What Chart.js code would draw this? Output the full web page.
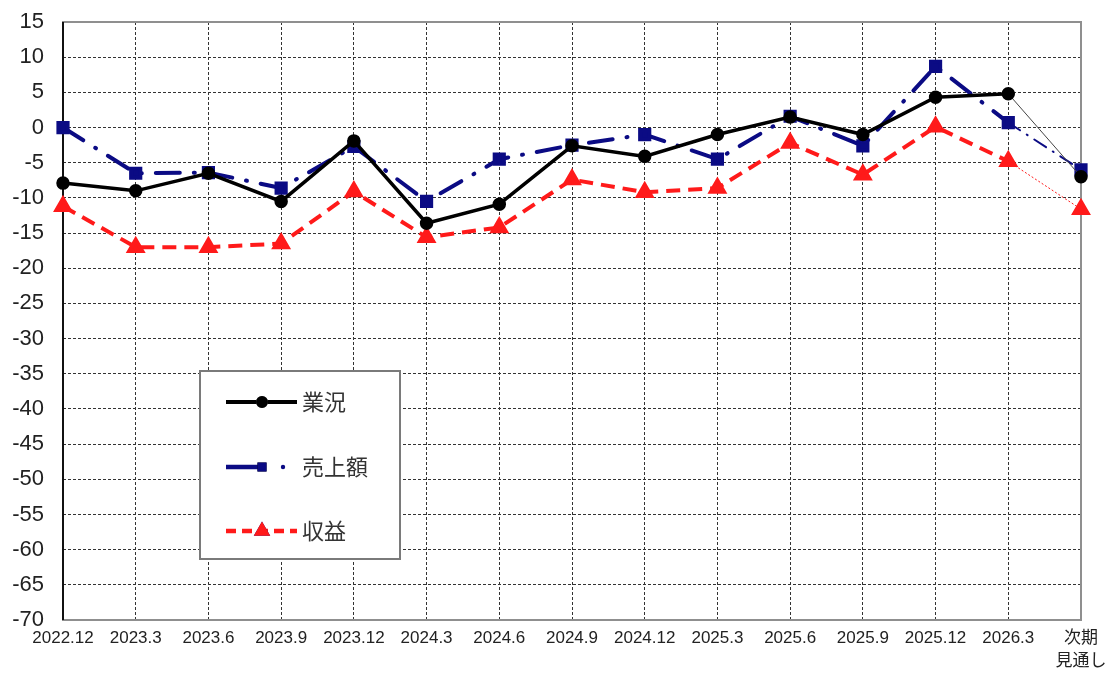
<!DOCTYPE html>
<html lang="ja">
<head>
<meta charset="utf-8">
<title>業況・売上額・収益</title>
<script src="https://cdn.jsdelivr.net/npm/chart.js"></script>
<style>
  html, body { margin: 0; padding: 0; background: #fff; }
  #wrap { width: 1106px; height: 673px; }
</style>
</head>
<body>
<div id="wrap"><canvas id="dsiChart" width="1106" height="673"></canvas></div>
<script>
// 調査時点
const periods = ['2022.12', '2023.3', '2023.6', '2023.9', '2023.12', '2024.3', '2024.6', '2024.9',
    '2024.12', '2025.3', '2025.6', '2025.9', '2025.12', '2026.3', ['次期', '見通し']];

// DI 値
const gyokyo = [-7.9, -9.0, -6.5, -10.5, -1.9, -13.6, -10.9, -2.6, -4.1, -1.0, 1.5, -1.0, 4.3, 4.8, -7.0];
const uriage = [0, -6.5, -6.4, -8.6, -2.7, -10.5, -4.5, -2.5, -1.0, -4.5, 1.6, -2.6, 8.7, 0.7, -6.0];
const shueki = [-11.2, -17.0, -17.0, -16.5, -9.1, -15.6, -14.2, -7.4, -9.2, -8.6, -2.2, -6.7, 0.1, -4.8, -11.6];

const yMin = -70;
const yMax = 15;
const yStep = 5;

const FONT = '"Liberation Sans", Arial, "Noto Sans CJK JP", sans-serif';
const NAVY = '#0b0b84';
const RED = '#ff1a1a';

// 次期見通しへの線だけ細くする
const isOutlook = ctx => ctx.p1DataIndex === periods.length - 1;

// 枠線（上・右はグレー、左は黒）
const framePlugin = {
    id: 'frame',
    beforeDatasetsDraw(chart) {
        const { ctx, chartArea: a } = chart;
        ctx.save();
        ctx.strokeStyle = '#8f8f8f';
        ctx.lineWidth = 2;
        ctx.strokeRect(a.left, a.top, a.right - a.left, a.bottom - a.top);
        ctx.beginPath();
        ctx.strokeStyle = '#111';
        ctx.moveTo(a.left, a.top);
        ctx.lineTo(a.left, a.bottom);
        ctx.stroke();
        ctx.restore();
    }
};

// 凡例（グラフ内の白い箱）
const legendPlugin = {
    id: 'boxLegend',
    afterDatasetsDraw(chart) {
        const { ctx, chartArea: a } = chart;
        const bx = a.left + 137, by = a.top + 349, bw = 200, bh = 188;
        ctx.save();
        ctx.fillStyle = '#fff';
        ctx.fillRect(bx, by, bw, bh);
        ctx.strokeStyle = '#7a7a7a';
        ctx.lineWidth = 2;
        ctx.strokeRect(bx, by, bw, bh);

        const x0 = bx + 26, x1 = bx + 97, xm = bx + 62;
        const rows = [by + 31, by + 96, by + 160];

        chart.data.datasets.forEach((ds, i) => {
            const y = rows[i];
            ctx.save();
            ctx.strokeStyle = ds.borderColor;
            ctx.lineWidth = ds.borderWidth + 0.5;
            ctx.lineCap = 'butt';
            if (i === 0) {
                ctx.beginPath(); ctx.moveTo(x0, y); ctx.lineTo(x1, y); ctx.stroke();
            } else if (i === 1) {
                ctx.beginPath(); ctx.moveTo(x0, y); ctx.lineTo(xm, y); ctx.stroke();
                ctx.fillStyle = ds.borderColor;
                ctx.beginPath(); ctx.arc(xm + 21, y, 2.2, 0, Math.PI * 2); ctx.fill();
            } else {
                ctx.setLineDash([10, 6]);
                ctx.beginPath(); ctx.moveTo(x0, y); ctx.lineTo(x1, y); ctx.stroke();
            }
            ctx.restore();
            Chart.helpers.drawPoint(ctx, {
                pointStyle: ds.pointStyle,
                radius: i === 1 ? 5 : ds.pointRadius,
                borderWidth: 1,
                rotation: 0
            }, xm, y);
            ctx.fillStyle = ds.pointBackgroundColor;
            ctx.strokeStyle = ds.pointBackgroundColor;
            ctx.fill();
            ctx.stroke();

            ctx.fillStyle = '#333';
            ctx.font = '22px "Noto Sans CJK JP", sans-serif';
            ctx.textBaseline = 'middle';
            ctx.textAlign = 'left';
            ctx.fillText(ds.label, x1 + 5, y);
        });
        ctx.restore();
    }
};

new Chart(document.getElementById('dsiChart'), {
    type: 'line',
    data: {
        labels: periods,
        datasets: [{
            label: '業況',
            data: gyokyo,
            borderColor: '#000',
            borderWidth: 3.5,
            pointStyle: 'circle',
            pointRadius: 5,
            pointBackgroundColor: '#000',
            pointBorderColor: '#000',
            segment: {
                borderWidth: ctx => isOutlook(ctx) ? 1 : undefined,
                borderColor: ctx => isOutlook(ctx) ? '#444' : undefined
            }
        }, {
            label: '売上額',
            data: uriage,
            borderColor: NAVY,
            borderWidth: 4,
            borderDash: [24, 14, 1, 14],
            borderCapStyle: 'round',
            pointStyle: 'rect',
            pointRadius: 6.5,
            pointBackgroundColor: NAVY,
            pointBorderColor: NAVY,
            segment: {
                borderWidth: ctx => isOutlook(ctx) ? 2 : undefined,
                borderDash: ctx => isOutlook(ctx) ? [14, 8, 1, 8] : undefined
            }
        }, {
            label: '収益',
            data: shueki,
            borderColor: RED,
            borderWidth: 4,
            borderDash: [14, 8],
            pointStyle: 'triangle',
            pointRadius: 7.5,
            pointBackgroundColor: RED,
            pointBorderColor: RED,
            segment: {
                borderWidth: ctx => isOutlook(ctx) ? 1 : undefined,
                borderDash: ctx => isOutlook(ctx) ? [2, 2] : undefined
            }
        }]
    },
    options: {
        responsive: false,
        animation: false,
        layout: { padding: { top: 22, right: 25, left: 0, bottom: 0 } },
        plugins: {
            legend: { display: false },
            tooltip: { enabled: false }
        },
        elements: { line: { tension: 0 } },
        scales: {
            x: {
                offset: false,
                grid: { color: '#333', lineWidth: 1, drawTicks: false },
                border: { display: false, dash: [3, 2] },
                ticks: {
                    autoSkip: false,
                    maxRotation: 0,
                    padding: 6,
                    color: '#222',
                    font: { family: FONT, size: 17, lineHeight: 1.4 }
                },
                afterFit(scale) {
                    scale.height = 53;
                    scale.paddingLeft = 0;
                    scale.paddingRight = 0;
                }
            },
            y: {
                min: yMin,
                max: yMax,
                grid: { color: '#333', lineWidth: 1, drawTicks: false },
                border: { display: false, dash: [3, 2] },
                ticks: {
                    stepSize: yStep,
                    padding: 19,
                    color: '#222',
                    font: { family: FONT, size: 22 }
                },
                afterFit(scale) {
                    scale.width = 63;
                    scale.paddingTop = 0;
                    scale.paddingBottom = 0;
                }
            }
        }
    },
    plugins: [framePlugin, legendPlugin]
});
</script>
</body>
</html>
